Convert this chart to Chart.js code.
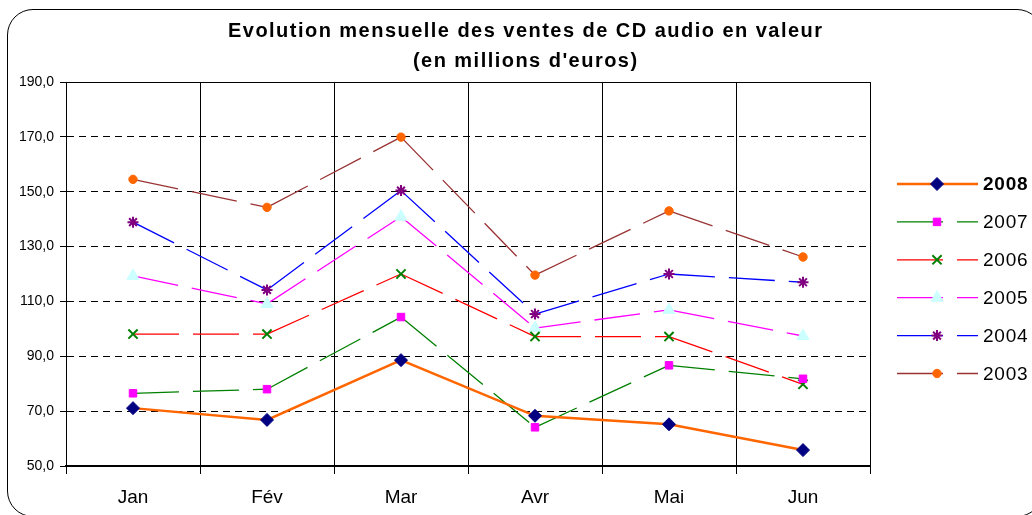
<!DOCTYPE html>
<html lang="fr">
<head>
<meta charset="utf-8">
<title>Ventes de CD audio</title>
<script src="https://cdn.jsdelivr.net/npm/chart.js@4/dist/chart.umd.min.js"></script>
<style>
  html, body { margin: 0; padding: 0; background: #fff; overflow: hidden; }
  #wrap { position: relative; width: 1032px; height: 515px; overflow: hidden; }
  #frame {
    position: absolute; left: 7px; top: 9px; width: 1036px; height: 508px;
    border: 1.5px solid #000; border-radius: 26px; box-sizing: border-box;
  }
  #chart { position: absolute; left: 0; top: 0; }
</style>
</head>
<body>
<div id="wrap">
  <div id="frame"></div>
  <canvas id="chart" width="1032" height="515"></canvas>
</div>
<script>
// Data
const months = ['Jan', 'Fév', 'Mar', 'Avr', 'Mai', 'Jun'];
const years = ['2008', '2007', '2006', '2005', '2004', '2003'];

const sales2008 = [71.1, 66.8, 88.6, 68.3, 65.2, 55.8];
const sales2007 = [76.5, 78.0, 104.3, 64.1, 86.7, 81.8];
const sales2006 = [98.1, 98.1, 120.0, 97.2, 97.2, 79.8];
const sales2005 = [119.3, 109.1, 140.9, 100.3, 106.9, 97.4];
const sales2004 = [138.9, 114.2, 150.4, 105.4, 120.0, 117.0];
const sales2003 = [154.5, 144.3, 169.9, 119.6, 143.0, 126.2];

const yMin = 50;
const yMax = 190;
const yStep = 20;

const titleLines = ['Evolution mensuelle des ventes de CD audio en valeur', "(en millions d'euros)"];

const FONT = '"Liberation Sans", Arial, sans-serif';
Chart.defaults.font.family = FONT;
Chart.defaults.color = '#000';

const longDash = [46, 14];
// restart the dash pattern at every point, like the original chart
const restartDash = { borderDashOffset: (c) => (c.p0DataIndex % 2) * 0.01 };

function dashedSeries(label, data, lineColor, style, radius, fill, stroke, pw) {
  return {
    label, data,
    borderColor: lineColor,
    borderWidth: 1.3,
    borderDash: longDash,
    segment: restartDash,
    pointStyle: style,
    pointRadius: radius,
    pointHoverRadius: radius,
    pointBackgroundColor: fill,
    pointBorderColor: stroke,
    pointBorderWidth: pw,
    tension: 0
  };
}

const datasets = [
  {
    label: years[0], data: sales2008,
    borderColor: '#FF6600', borderWidth: 2.5,
    pointStyle: 'rectRot', pointRadius: 6.5, pointHoverRadius: 6.5,
    pointBackgroundColor: '#000080', pointBorderColor: '#000080', pointBorderWidth: 1,
    tension: 0
  },
  dashedSeries(years[1], sales2007, '#008000', 'rect', 5.3, '#FF00FF', '#FF00FF', 1),
  dashedSeries(years[2], sales2006, '#FF0000', 'crossRot', 6.5, '#008000', '#008000', 2),
  dashedSeries(years[3], sales2005, '#FF00FF', 'triangle', 7, '#CCFFFF', '#CCFFFF', 1),
  dashedSeries(years[4], sales2004, '#0000FF', 'star', 5.5, '#800080', '#800080', 2),
  dashedSeries(years[5], sales2003, '#993333', 'circle', 4.2, '#FF6600', '#FF6600', 1)
];

// title and legend drawn next to the plot
const decorations = {
  id: 'decorations',
  afterDraw(chart) {
    const ctx = chart.ctx;
    ctx.save();
    ctx.fillStyle = '#000';
    ctx.textBaseline = 'middle';

    // title
    ctx.font = 'bold 20px ' + FONT;
    const natural = ctx.measureText(titleLines[0]).width;
    const spacing = Math.max(0, (594 - natural) / (titleLines[0].length - 1));
    ctx.letterSpacing = spacing.toFixed(2) + 'px';
    ctx.textAlign = 'left';
    titleLines.forEach((line, i) => {
      const w = ctx.measureText(line).width - spacing;
      ctx.fillText(line, 525 - w / 2, 31 + i * 30);
    });

    // legend
    ctx.letterSpacing = '0.8px';
    chart.data.datasets.forEach((ds, i) => {
      const y = 184 + i * 37.9;
      ctx.save();
      ctx.strokeStyle = ds.borderColor;
      ctx.lineWidth = ds.borderWidth;
      ctx.setLineDash(ds.borderDash || []);
      ctx.beginPath();
      ctx.moveTo(897, y);
      ctx.lineTo(978, y);
      ctx.stroke();
      ctx.restore();

      ctx.save();
      ctx.fillStyle = ds.pointBackgroundColor;
      ctx.strokeStyle = ds.pointBorderColor;
      ctx.lineWidth = ds.pointBorderWidth;
      Chart.helpers.drawPoint(ctx, {
        pointStyle: ds.pointStyle, radius: ds.pointRadius, rotation: 0,
        borderWidth: ds.pointBorderWidth
      }, 937, y);
      ctx.restore();

      ctx.font = (i === 0 ? 'bold ' : '') + '19px ' + FONT;
      ctx.fillStyle = '#000';
      ctx.fillText(ds.label, 983, y + 1);
    });
    ctx.restore();
  }
};

const chart = new Chart(document.getElementById('chart'), {
  type: 'line',
  data: { labels: months, datasets },
  plugins: [decorations],
  options: {
    responsive: false,
    animation: false,
    layout: { padding: { top: 82, right: 162, bottom: 0, left: 0 } },
    plugins: {
      legend: { display: false },
      title: { display: false },
      tooltip: { enabled: false }
    },
    scales: {
      x: {
        offset: true,
        grid: { offset: true, color: '#000', lineWidth: 1, tickLength: 8, tickColor: '#000' },
        border: { display: true, color: '#000', width: 2 },
        ticks: { color: '#000', font: { size: 19 }, padding: 12 },
        afterFit: (s) => { s.height = 49; }
      },
      y: {
        min: yMin,
        max: yMax,
        grid: { color: '#000', lineWidth: 1, tickLength: 6, tickColor: '#000', tickBorderDash: [] },
        border: {
          display: true, color: '#000', width: 1,
          dash: (c) => (c.tick && (c.tick.value === yMax || c.tick.value === yMin)) ? [] : [7, 5]
        },
        ticks: {
          stepSize: yStep,
          color: '#000',
          font: { size: 14 },
          padding: 6,
          callback: (v) => v.toFixed(1).replace('.', ',')
        },
        afterFit: (s) => { s.width = 66; }
      }
    }
  }
});
</script>
</body>
</html>
